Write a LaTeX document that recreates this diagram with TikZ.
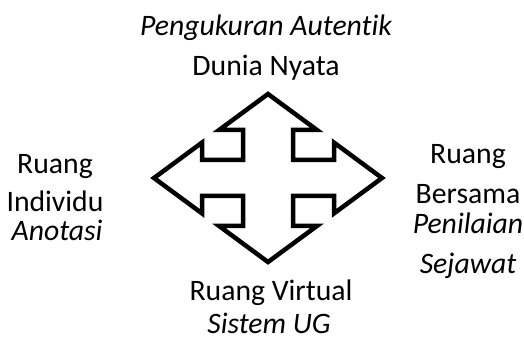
\documentclass[tikz,border=0pt]{standalone}
\usepackage{fontspec}
\setmainfont{Carlito}[Ligatures=NoCommon]
\usepackage{tikz}
\usetikzlibrary{positioning}

\tikzset{
  lbl/.style={inner sep=0pt,anchor=base,font=\fontsize{29.7}{34}\selectfont},
  ilbl/.style={lbl,font=\fontsize{29.7}{34}\selectfont\itshape},
  cross/.style={line width=4.5pt,line join=miter,miter limit=10}
}

\begin{document}
\begin{tikzpicture}[x=1pt,y=1pt]
\useasboundingbox(0,0)rectangle(524,340);
% four-way arrow
\draw[cross,shift={(268,162)}](0,84)--(-48.9,48)--(-25,48)--(-25,18)--(-66,18)--(-66,35.4)
--(-114,0)--(-66,-35.4)--(-66,-18)--(-25,-18)--(-25,-48)--(-48.9,-48)
--(0,-84)--(48.9,-48)--(25,-48)--(25,-18)--(66,-18)--(66,-35.4)
--(114,0)--(66,35.4)--(66,18)--(25,18)--(25,48)--(48.9,48)--cycle;
% top
\node[ilbl](autentik)at(266,304){Pengukuran Autentik};
\node[lbl](nyata)at(266,264){Dunia Nyata};
% left
\node[lbl](ruangA)at(55,166.7){Ruang};
\node[lbl](individu)at(55,128.3){Individu};
\node[ilbl](anotasi)at(57,99.5){Anotasi};
% right
\node[lbl](ruangB)at(468,176.7){Ruang};
\node[lbl](bersama)at(468,136.7){Bersama};
\node[ilbl](penilaian)at(468,106.7){Penilaian};
\node[ilbl](sejawat)at(468,66.7){Sejawat};
% bottom
\node[lbl](virtual)at(271,40){Ruang Virtual};
\node[ilbl](sistem)at(269,6.5){Sistem UG};
\end{tikzpicture}
\end{document}
